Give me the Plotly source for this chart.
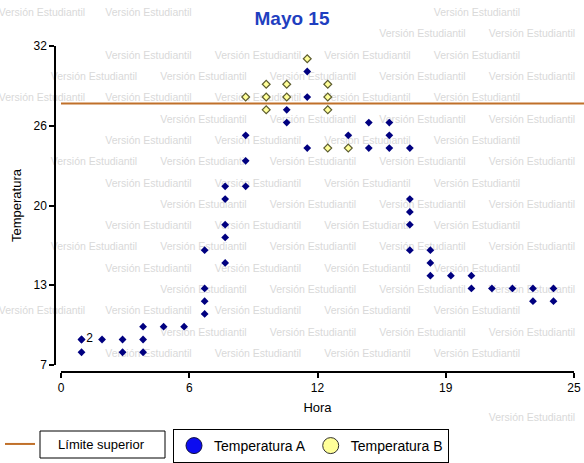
import plotly.graph_objects as go
from collections import Counter

# ---------------- data ----------------
title_text = "Mayo 15"
x_title = "Hora"
y_title = "Temperatura"

hora_a = [1, 1, 1, 2, 3, 3, 4, 4, 4, 5, 6, 7, 7, 7, 7, 8, 8, 8, 8, 8, 9, 9, 9,
          11, 11, 12, 12, 12, 14, 15, 15, 16, 16, 16, 17, 17, 17, 17, 17,
          18, 18, 18, 19, 20, 20, 21, 22, 23, 23, 24, 24]
temp_a = [9, 9, 8, 9, 9, 8, 10, 9, 8, 10, 10, 16, 13, 12, 11, 21, 20, 18, 17, 15, 25, 23, 21,
          27, 26, 30, 28, 24, 25, 26, 24, 26, 25, 24, 24, 20, 19, 18, 16,
          16, 15, 14, 14, 14, 13, 13, 13, 13, 12, 13, 12]

hora_b = [9, 10, 10, 10, 11, 11, 12, 13, 13, 13, 13, 14]
temp_b = [28, 29, 28, 27, 29, 28, 31, 29, 28, 27, 24, 24]

limite_superior = 27.5

x_tickvals = [0, 6.25, 12.5, 18.75, 25]
x_ticktext = ["0", "6", "12", "19", "25"]
y_tickvals = [7, 13.25, 19.5, 25.75, 32]
y_ticktext = ["7", "13", "20", "26", "32"]

legend_names = ["Límite superior", "Temperatura A", "Temperatura B"]
watermark_text = "Versión Estudiantil"

# ---------------- geometry (pixels of the 584x463 page) ----------------
W, H = 584, 463
X0_PX, X1_PX = 61, 574      # data x range ends
Y0_PX, Y1_PX = 365, 46      # data y range ends (bottom, top)
YAXIS_LINE_PX = 55
XAXIS_LINE_PX = 372
X_RANGE = [0, 25]
Y_RANGE = [7, 32]

def pxx(p):
    return p / W

def pxy(p):
    return 1 - p / H

FONT = "Liberation Sans, Arial, sans-serif"

# counts of overlapping points (label shown once)
cnt = Counter(zip(hora_a, temp_a))
seen = set()
text_a = []
for h, t in zip(hora_a, temp_a):
    text_a.append(str(cnt[(h, t)]) if cnt[(h, t)] > 1 and (h, t) not in seen else "")
    seen.add((h, t))

# ---------------- watermark grid (background decoration, page pixels) ----------------
WM_W, WM_H = 82, 12
exclude = [
    (240, 345, 4, 32),                       # title
    (4, 28, 140, 270),                       # y title
    (290, 340, 398, 418),                    # x title
    (0, 455, 424, 463),                      # legend area
    (86, 102, 329, 345),                     # count label
]
for ty in [46, 126, 206, 285, 365]:
    exclude.append((26, 56, ty - 8, ty + 8))
for tx in [61, 189, 318, 446, 574]:
    exclude.append((tx - 11, tx + 11, 376, 394))

def hits(x0, x1, y0, y1):
    for a0, a1, b0, b1 in exclude:
        if x0 < a1 and x1 > a0 and y0 < b1 and y1 > b0:
            return True
    return False

wm_x, wm_y = [], []
for k in range(22):
    cy = 13.5 + 21.3 * k
    start = 53.0 if k % 2 == 1 else -2.0
    while start < W:
        s = max(start, 1.0)
        if s + WM_W <= W - 1 and cy - WM_H / 2 >= 0 and cy + WM_H / 2 <= H - 1:
            if not hits(s, s + WM_W, cy - WM_H / 2, cy + WM_H / 2):
                wm_x.append(s + WM_W / 2)
                wm_y.append(cy)
        start += 109.5

fig = go.Figure()

# background page-pixel subplot (x, y) holding the watermark
fig.add_trace(go.Scatter(
    x=wm_x, y=wm_y, mode="text", text=[watermark_text] * len(wm_x),
    textposition="middle center", cliponaxis=False, showlegend=False,
    textfont=dict(family=FONT, size=10.5, color="#d9d9d9"), hoverinfo="skip",
    xaxis="x", yaxis="y"))

# data subplot (x2, y2)
fig.add_trace(go.Scatter(
    x=hora_b, y=temp_b, mode="markers", showlegend=False, cliponaxis=False,
    xaxis="x2", yaxis="y2",
    marker=dict(symbol="diamond", size=6, color="#ffff99",
                line=dict(color="#5c5c2e", width=1.2))))

fig.add_trace(go.Scatter(
    x=hora_a, y=temp_a, mode="markers+text", text=text_a,
    textposition="middle right", showlegend=False, cliponaxis=False,
    xaxis="x2", yaxis="y2",
    textfont=dict(family=FONT, size=12, color="#000000"),
    marker=dict(symbol="diamond", size=6, color="#000080", line=dict(width=0))))

# legend entries
fig.add_trace(go.Scatter(
    x=[None], y=[None], mode="lines", xaxis="x2", yaxis="y2",
    name="\u00a0\u00a0\u00a0\u00a0\u00a0" + legend_names[0],
    line=dict(color="#c0702a", width=2), legend="legend"))
fig.add_trace(go.Scatter(
    x=[None], y=[None], mode="markers", name=legend_names[1], legend="legend2",
    xaxis="x2", yaxis="y2",
    marker=dict(symbol="circle", size=18, color="#0c0cf0", line=dict(color="#101040", width=1))))
fig.add_trace(go.Scatter(
    x=[None], y=[None], mode="markers", name=legend_names[2], legend="legend2",
    xaxis="x2", yaxis="y2",
    marker=dict(symbol="circle", size=18, color="#ffff99", line=dict(color="#303030", width=1))))

# upper limit line (from the y axis to the right page edge)
fig.add_shape(type="line", xref="paper", yref="y2",
              x0=pxx(X0_PX), x1=1, y0=limite_superior, y1=limite_superior,
              line=dict(color="#c0702a", width=2))

# box around the "Límite superior" legend text
fig.add_shape(type="rect", xref="paper", yref="paper",
              x0=pxx(40), x1=pxx(165), y0=pxy(458), y1=pxy(431),
              line=dict(color="#000000", width=1), fillcolor="white", layer="above")

axis_common = dict(showline=True, linecolor="black", linewidth=1.5, ticks="outside",
                   ticklen=5, tickwidth=1.5, tickcolor="black", showgrid=False,
                   zeroline=False, anchor="free", automargin=False,
                   tickfont=dict(family=FONT, size=12, color="black"))

fig.update_layout(
    width=W, height=H,
    margin=dict(l=0, r=0, t=0, b=0, autoexpand=False),
    paper_bgcolor="white", plot_bgcolor="rgba(0,0,0,0)",
    font=dict(family=FONT, color="black"),
    title=dict(text="<b>" + title_text + "</b>", x=0.5, xref="container", xanchor="center",
               y=1 - 18 / H, yref="container", yanchor="middle",
               font=dict(family=FONT, size=19, color="#1f3fc0")),
    xaxis=dict(domain=[0, 1], range=[0, W], visible=False, fixedrange=True),
    yaxis=dict(domain=[0, 1], range=[H, 0], visible=False, fixedrange=True),
    xaxis2=dict(domain=[pxx(X0_PX), pxx(X1_PX)], range=X_RANGE, position=pxy(XAXIS_LINE_PX),
                tickvals=x_tickvals, ticktext=x_ticktext,
                title=dict(text=x_title, font=dict(family=FONT, size=13), standoff=8),
                **axis_common),
    yaxis2=dict(domain=[pxy(Y0_PX), pxy(Y1_PX)], range=Y_RANGE, position=pxx(YAXIS_LINE_PX),
                tickvals=y_tickvals, ticktext=y_ticktext,
                title=dict(text=y_title, font=dict(family=FONT, size=13), standoff=8),
                **axis_common),
    legend=dict(x=0, xanchor="left", y=pxy(444), yanchor="middle",
                bgcolor="rgba(0,0,0,0)", borderwidth=0, orientation="h",
                font=dict(family=FONT, size=13, color="black")),
    legend2=dict(x=pxx(173), xanchor="left", y=pxy(429), yanchor="top",
                 bgcolor="white", bordercolor="black", borderwidth=1, orientation="h",
                 font=dict(family=FONT, size=14, color="black")),
)

fig.write_html("out.html", config={"displayModeBar": False},
               post_script="document.body.style.margin='0px';document.body.style.overflow='hidden';")
